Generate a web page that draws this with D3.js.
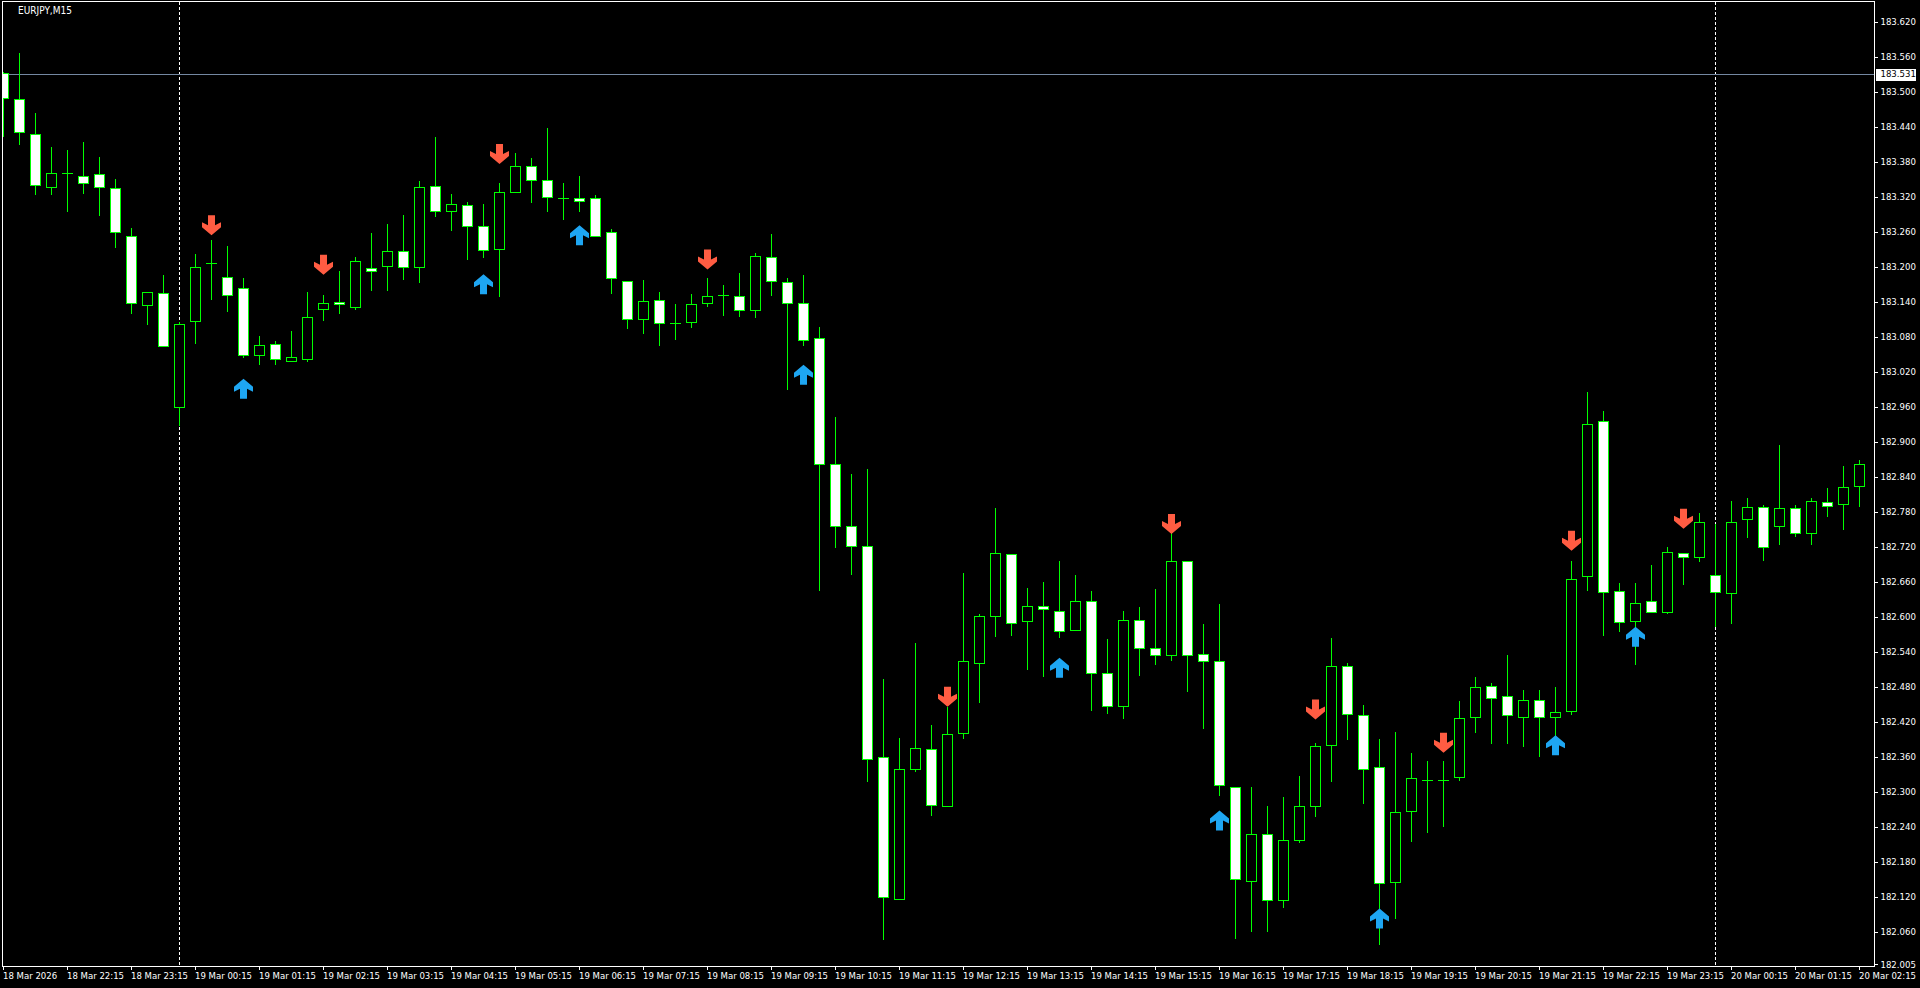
<!DOCTYPE html>
<html><head><meta charset="utf-8">
<script src="https://cdn.jsdelivr.net/npm/d3@7"></script>
<style>
html,body{margin:0;padding:0;background:#000;overflow:hidden}
svg{display:block}
text{font-family:"DejaVu Sans Condensed","DejaVu Sans",sans-serif;font-stretch:condensed;}
</style></head><body>
<svg id="c" width="1920" height="988"></svg>
<script>
const symbol = "EURJPY,M15";
const opens = [183.532,183.487,183.428,183.337,183.361,183.355,183.358,183.335,183.253,183.135,183.155,182.960,183.107,183.207,183.182,183.164,183.049,183.068,183.038,183.041,
183.128,183.140,183.131,183.197,183.202,183.227,183.199,183.338,183.296,183.306,183.269,183.231,183.328,183.373,183.349,183.318,183.317,183.317,183.259,183.176,
183.111,183.143,183.104,183.106,183.137,183.151,183.150,183.126,183.217,183.174,183.138,183.077,182.862,182.756,182.721,182.359,182.116,182.340,182.374,182.276,
182.401,182.521,182.601,182.707,182.592,182.618,182.610,182.577,182.627,182.503,182.447,182.594,182.546,182.534,182.695,182.536,182.524,182.308,182.147,182.227,
182.114,182.217,182.276,182.380,182.515,182.432,182.343,182.146,182.267,182.321,182.320,182.325,182.428,182.481,182.464,182.428,182.457,182.428,182.439,182.670,
182.936,182.644,182.592,182.627,182.609,182.709,182.702,182.671,182.641,182.768,182.788,182.756,182.786,182.744,182.797,182.794,182.824];
const highs = [183.533,183.566,183.464,183.405,183.400,183.414,183.388,183.350,183.266,183.156,183.186,183.106,183.222,183.246,183.236,183.181,183.081,183.072,183.089,183.157,
183.152,183.192,183.216,183.257,183.273,183.288,183.346,183.422,183.324,183.310,183.307,183.343,183.394,183.386,183.437,183.343,183.355,183.322,183.264,183.176,
183.177,183.157,183.136,183.154,183.181,183.168,183.189,183.224,183.256,183.181,183.186,183.096,182.943,182.845,182.853,182.494,182.392,182.555,182.414,182.446,
182.675,182.604,182.786,182.707,182.649,182.660,182.696,182.672,182.645,182.562,182.610,182.617,182.648,182.743,182.695,182.588,182.622,182.308,182.309,182.275,
182.292,182.327,182.384,182.564,182.521,182.449,182.391,182.403,182.367,182.353,182.353,182.456,182.496,182.487,182.534,182.475,182.475,182.480,182.696,182.986,
182.952,182.658,182.658,182.689,182.719,182.709,182.778,182.759,182.799,182.803,182.792,182.894,182.792,182.804,182.821,182.859,182.869];
const lows = [183.424,183.410,183.324,183.325,183.296,183.327,183.289,183.234,183.121,183.102,183.064,182.929,183.070,183.144,183.124,183.046,183.033,183.034,183.038,183.038,
183.109,183.120,183.127,183.160,183.160,183.179,183.174,183.287,183.263,183.214,183.217,183.149,183.328,183.311,183.296,183.282,183.295,183.253,183.155,183.095,
183.087,183.065,183.076,183.097,183.132,183.117,183.115,183.114,183.152,182.991,183.065,182.646,182.720,182.673,182.319,182.047,182.116,182.336,182.261,182.275,
182.392,182.454,182.567,182.568,182.510,182.498,182.565,182.577,182.440,182.435,182.427,182.500,182.519,182.526,182.472,182.409,182.295,182.050,182.062,182.062,
182.102,182.214,182.258,182.319,182.390,182.281,182.039,182.083,182.215,182.231,182.241,182.320,182.402,182.383,182.384,182.378,182.361,182.397,182.434,182.646,
182.568,182.576,182.519,182.608,182.606,182.656,182.696,182.584,182.589,182.737,182.697,182.725,182.738,182.725,182.772,182.751,182.790];
const closes = [183.489,183.430,183.340,183.360,183.361,183.344,183.337,183.260,183.138,183.156,183.064,183.101,183.200,183.207,183.152,183.049,183.065,183.041,183.045,183.114,
183.138,183.136,183.209,183.193,183.227,183.199,183.337,183.296,183.307,183.269,183.229,183.328,183.373,183.349,183.320,183.318,183.313,183.253,183.180,183.111,
183.142,183.103,183.104,183.136,183.149,183.151,183.125,183.218,183.175,183.138,183.075,182.862,182.756,182.721,182.356,182.119,182.339,182.376,182.277,182.399,
182.524,182.601,182.709,182.589,182.618,182.613,182.575,182.627,182.503,182.447,182.594,182.547,182.535,182.695,182.534,182.525,182.311,182.151,182.227,182.114,
182.218,182.276,182.378,182.515,182.433,182.340,182.143,182.266,182.323,182.321,182.320,182.426,182.479,182.461,182.432,182.457,182.429,182.437,182.664,182.930,
182.643,182.591,182.624,182.608,182.711,182.703,182.762,182.643,182.762,182.788,182.719,182.787,182.744,182.799,182.790,182.823,182.862];
const timeLabels = ["18 Mar 2026","18 Mar 22:15","18 Mar 23:15","19 Mar 00:15","19 Mar 01:15","19 Mar 02:15","19 Mar 03:15","19 Mar 04:15","19 Mar 05:15","19 Mar 06:15",
"19 Mar 07:15","19 Mar 08:15","19 Mar 09:15","19 Mar 10:15","19 Mar 11:15","19 Mar 12:15","19 Mar 13:15","19 Mar 14:15","19 Mar 15:15","19 Mar 16:15",
"19 Mar 17:15","19 Mar 18:15","19 Mar 19:15","19 Mar 20:15","19 Mar 21:15","19 Mar 22:15","19 Mar 23:15","20 Mar 00:15","20 Mar 01:15","20 Mar 02:15"];
const priceTicks = [183.620,183.560,183.500,183.440,183.380,183.320,183.260,183.200,183.140,183.080,183.020,182.960,182.900,182.840,182.780,182.720,182.660,182.600,182.540,182.480,182.420,182.360,182.300,182.240,182.180,182.120,182.060,182.005];
const sellSignalBars = [13,20,31,44,59,73,82,90,98,105];
const sellSignalPrices = [183.254,183.186,183.376,183.195,182.446,182.742,182.424,182.367,182.713,182.751];
const buySignalBars = [15,30,36,50,66,76,86,97,102];
const buySignalPrices = [183.008,183.187,183.271,183.032,182.530,182.268,182.100,182.397,182.583];
const separatorBars = [11,107];
const currentPrice = 183.531;

const svg = d3.select("#c");
svg.append("rect").attr("width",1920).attr("height",988).attr("fill","#000");
const L = 2.5, T = 1.5, R = 1874.5, B = 966.5;
const n = opens.length;
const x = d3.scaleLinear().domain([0, n - 1]).range([3.3, 1859.3]);
const y = d3.scaleLinear().domain([182.005, 183.620]).range([964.0, 21.6]);
const labelEvery = 4;
const fontStack = '"DejaVu Sans Condensed","DejaVu Sans",sans-serif';

svg.append("defs").append("clipPath").attr("id","plot")
  .append("rect").attr("x",3).attr("y",2).attr("width",R-3).attr("height",B-2);

const g = svg.append("g").attr("clip-path","url(#plot)").attr("shape-rendering","crispEdges");

// period separators
g.selectAll("line.sep").data(separatorBars).join("line")
  .attr("x1",d=>Math.round(x(d))+0.5).attr("x2",d=>Math.round(x(d))+0.5)
  .attr("y1",T).attr("y2",B)
  .attr("stroke","#fff").attr("stroke-width",1).attr("stroke-dasharray","3,2");

// current price line
const cpY = Math.round(y(currentPrice))+0.5;
g.append("line").attr("x1",L).attr("x2",R).attr("y1",cpY).attr("y2",cpY)
  .attr("stroke","#7488a2").attr("stroke-width",1);

const idx = d3.range(n);
const cand = g.selectAll("g.c").data(idx).join("g");
cand.append("line")
  .attr("x1",i=>Math.round(x(i))+0.5).attr("x2",i=>Math.round(x(i))+0.5)
  .attr("y1",i=>Math.round(y(highs[i]))).attr("y2",i=>Math.round(y(lows[i]))+1)
  .attr("stroke","#00ff00").attr("stroke-width",1);
cand.each(function(i){
  const sel = d3.select(this);
  const cx = Math.round(x(i));
  const top = Math.round(y(Math.max(opens[i],closes[i])));
  const bot = Math.round(y(Math.min(opens[i],closes[i])));
  if (bot - top < 1) {
    sel.append("line").attr("x1",cx-5).attr("x2",cx+6).attr("y1",top+0.5).attr("y2",top+0.5)
      .attr("stroke","#00ff00").attr("stroke-width",1);
  } else {
    sel.append("rect").attr("x",cx-4.5).attr("y",top+0.5).attr("width",10).attr("height",bot-top)
      .attr("fill", closes[i] > opens[i] ? "#000" : "#fff")
      .attr("stroke","#00ff00").attr("stroke-width",1);
  }
});

// arrows
const arrowG = svg.append("g").attr("clip-path","url(#plot)");
function downArrow(cx, t){
  return [[cx-3.5,t-20],[cx+3.5,t-20],[cx+3.5,t-10],[cx+9.5,t-13],[cx+9.5,t-8],[cx,t],[cx-9.5,t-8],[cx-9.5,t-13],[cx-3.5,t-10]];
}
function upArrow(cx, t){
  return [[cx-3.5,t+20],[cx+3.5,t+20],[cx+3.5,t+10],[cx+9.5,t+13],[cx+9.5,t+8],[cx,t],[cx-9.5,t+8],[cx-9.5,t+13],[cx-3.5,t+10]];
}
arrowG.selectAll("polygon.dn").data(sellSignalBars).join("polygon")
  .attr("points",(b,k)=>downArrow(Math.round(x(b))+0.5, y(sellSignalPrices[k])).map(p=>p.join(",")).join(" "))
  .attr("fill","#ff5c42");
arrowG.selectAll("polygon.up").data(buySignalBars).join("polygon")
  .attr("points",(b,k)=>upArrow(Math.round(x(b))+0.5, y(buySignalPrices[k])).map(p=>p.join(",")).join(" "))
  .attr("fill","#1ea6f2");

// frame
svg.append("rect").attr("x",L).attr("y",T).attr("width",R-L).attr("height",B-T)
  .attr("fill","none").attr("stroke","#fff").attr("stroke-width",1).attr("shape-rendering","crispEdges");

// title
svg.append("text").attr("x",18).attr("y",14).attr("fill","#fff").attr("font-size","10px").text(symbol);

// y axis
const yAxis = svg.append("g").attr("transform",`translate(${R},0)`)
  .call(d3.axisRight(y).tickValues(priceTicks).tickFormat(d3.format(".3f")).tickSize(3).tickPadding(3));
yAxis.select(".domain").remove();
yAxis.selectAll(".tick line").attr("stroke","#fff").attr("shape-rendering","crispEdges");
yAxis.selectAll(".tick text").attr("fill","#fff").attr("font-size","9.5px").style("font-family",fontStack);

// x axis
const tickIdx = timeLabels.map((_,k)=>k*labelEvery);
const xAxis = svg.append("g").attr("transform",`translate(0,${B})`)
  .call(d3.axisBottom(x).tickValues(tickIdx).tickFormat((d,k)=>timeLabels[k]).tickSize(3).tickPadding(3));
xAxis.select(".domain").remove();
xAxis.selectAll(".tick").attr("transform",d=>`translate(${Math.round(x(d))+0.5},0)`);
xAxis.selectAll(".tick line").attr("stroke","#fff").attr("shape-rendering","crispEdges");
xAxis.selectAll(".tick text").attr("fill","#fff").attr("font-size","9.5px").attr("text-anchor","start").attr("x",-0.5)
  .style("font-family",fontStack);

// current price label
const pl = svg.append("g");
pl.append("rect").attr("x",R+1.5).attr("y",Math.round(y(currentPrice))-5.5).attr("width",40).attr("height",12)
  .attr("fill","#fff").attr("shape-rendering","crispEdges");
pl.append("text").attr("x",R+6).attr("y",y(currentPrice)+0.5).attr("dy","0.35em").attr("fill","#000")
  .attr("font-size","9.5px").text(d3.format(".3f")(currentPrice));
</script>
</body></html>
